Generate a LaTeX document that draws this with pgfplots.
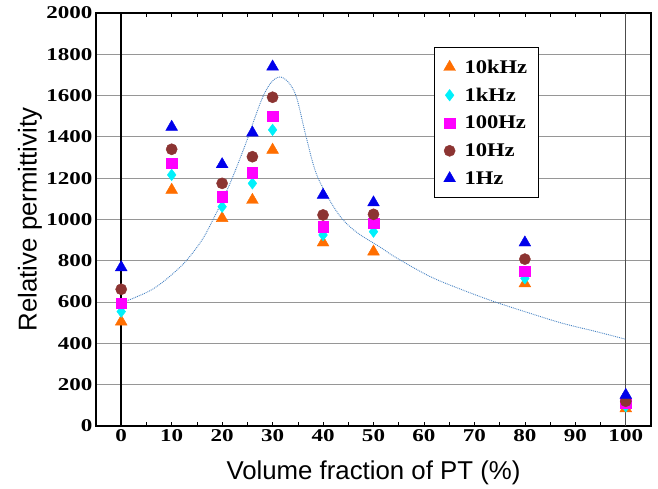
\documentclass[border=0pt]{standalone}
\usepackage{fontspec}
\setmainfont{Liberation Serif}
\newfontfamily\arialfont{Liberation Sans}
\usepackage{graphicx}
\usepackage{pgfplots}
\pgfplotsset{compat=1.18}
\definecolor{cOrange}{RGB}{255,110,0}
\definecolor{cCyan}{RGB}{0,240,250}
\definecolor{cMag}{RGB}{255,0,255}
\definecolor{cBrown}{RGB}{140,52,50}
\definecolor{cBlue}{RGB}{0,0,235}
\definecolor{cCurve}{RGB}{70,130,195}
\definecolor{cGrid}{RGB}{150,150,150}
\newcommand{\legtxt}[1]{\hspace{7pt}\scalebox{1.17}[1]{#1}\hspace{-8pt}}
\begin{document}
\begin{tikzpicture}
\begin{axis}[
  scale only axis, width=555pt, height=413pt,
  xmin=-5, xmax=105, ymin=0, ymax=2000,
  xtick={0,10,...,100}, minor x tick num=1,
  ytick={0,200,...,2000},
  ymajorgrids, major grid style={cGrid, line width=1pt},
  axis line style={line width=2pt},
  tick align=inside, major tick length=4pt, minor tick length=4pt,
  ytick style={draw=none},
  xtick style={black, line width=0.6pt},
  minor x tick style={black, line width=0.6pt},
  /pgf/number format/1000 sep={},
  /pgf/number format/assume math mode=true,
  every tick label/.append style={font=\fontsize{18}{19}\selectfont\bfseries},
  xticklabel={\scalebox{1.28}[1]{\pgfmathprintnumber{\tick}}},
  yticklabel={\scalebox{1.28}[1]{\pgfmathprintnumber{\tick}}},
  xlabel={Volume fraction of PT (\%)},
  ylabel={Relative permittivity},
  label style={font=\arialfont\fontsize{25.8}{29}\selectfont},
  xlabel style={at={(axis description cs:0.5,-0.114)}, anchor=center},
  ylabel style={at={(axis description cs:-0.119,0.5)}, anchor=center},
  legend style={at={(axis description cs:0.609,0.918)}, anchor=north west,
    draw=black, line width=1.5pt, fill=white,
    font=\fontsize{19.3}{22}\selectfont\bfseries, row sep=9.3pt,
    inner xsep=9pt, inner ysep=10pt},
  legend cell align=left,
  legend image post style={line width=0.4pt},
]
\draw[black, line width=1.5pt] (axis cs:0,0) -- (axis cs:0,2000);
\draw[black!70, line width=0.8pt] (axis cs:100,0) -- (axis cs:100,2000);

\addplot[only marks, mark=triangle*, mark size=6.8pt, color=cOrange] coordinates {
(0,505) (10,1143) (20,1006) (26,1094) (30,1337) (40,888) (50,844) (80,690) (100,85)};
\addlegendentry{\legtxt{10kHz}}
\addplot[only marks, mark=diamond*, mark size=5.8pt, color=cCyan] coordinates {
(0,554) (10,1216) (20,1062) (26,1175) (30,1434) (40,925) (50,941) (80,715) (100,95)};
\addlegendentry{\legtxt{1kHz}}
\addplot[only marks, mark=square*, mark size=5.2pt, color=cMag] coordinates {
(0,594) (10,1272) (20,1110) (26,1227) (30,1501) (40,965) (50,982) (80,749) (100,110)};
\addlegendentry{\legtxt{100Hz}}
\addplot[only marks, mark=*, mark size=5.6pt, color=cBrown] coordinates {
(0,662) (10,1340) (20,1175) (26,1304) (30,1592) (40,1022) (50,1025) (80,808) (100,120)};
\addlegendentry{\legtxt{10Hz}}
\addplot[only marks, mark=triangle*, mark size=6.8pt, color=cBlue] coordinates {
(0,768) (10,1448) (20,1267) (26,1420) (30,1740) (40,1119) (50,1082) (80,888) (100,150)};
\addlegendentry{\legtxt{1Hz}}

\addplot[forget plot, smooth, tension=0.55, densely dotted, line width=0.9pt, color=cCurve] coordinates {
(0,595) (3,625) (6.2,662) (9.5,722) (12.8,798) (16,900) (18,990) (20,1090) (22,1200)
(24.7,1369) (26.3,1480) (28,1590) (29.6,1660) (31.3,1690) (33,1668) (34.7,1595)
(36.6,1405) (38.6,1226) (41.3,1094) (43.9,1000) (47,932) (51.2,868) (54.5,815)
(61.1,725) (67,665) (73.7,604) (81,546) (87.5,497) (94,458) (100,420)};
\end{axis}
\path ([shift={(-96pt,-62pt)}]current axis.south west) rectangle ([shift={(7pt,13pt)}]current axis.north east);
\end{tikzpicture}
\end{document}
